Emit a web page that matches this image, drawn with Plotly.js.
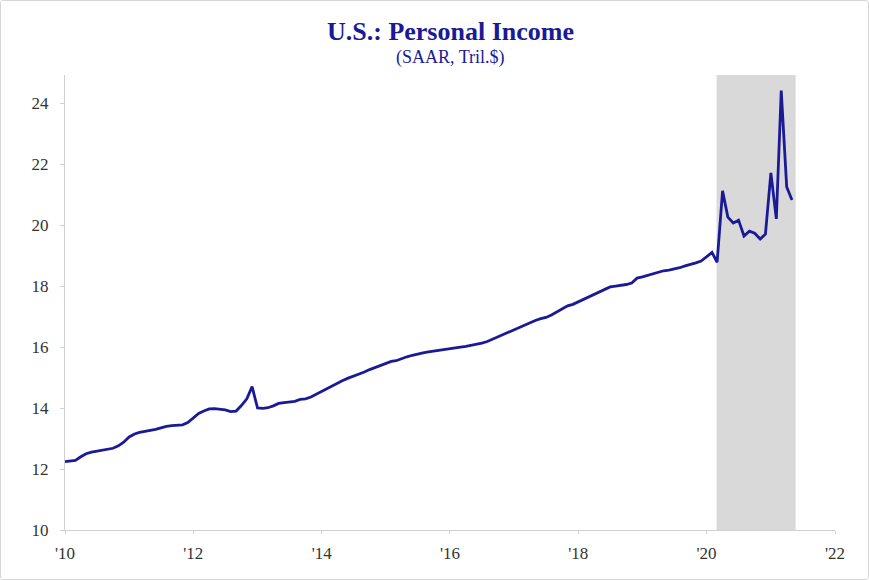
<!DOCTYPE html>
<html>
<head>
<meta charset="utf-8">
<script src="https://cdn.plot.ly/plotly-3.0.1.min.js"></script>
<style>
  html, body { margin: 0; padding: 0; background: #ffffff; }
  #frame { width: 869px; height: 580px; box-sizing: border-box; border: 1px solid #d6d6d6; border-radius: 3px; overflow: hidden; }
  #chart { width: 867px; height: 578px; }
</style>
</head>
<body>
<div id="frame"><div id="chart"></div></div>
<script>
// Monthly series start (first observation) and values, SAAR, trillions of $
const startYear = 2010;
const personalIncome = [
  // 2010
  12.24, 12.25, 12.28, 12.40, 12.50, 12.55, 12.58, 12.62, 12.65, 12.68, 12.76, 12.88,
  // 2011
  13.05, 13.15, 13.20, 13.23, 13.27, 13.30, 13.35, 13.40, 13.42, 13.43, 13.45, 13.52,
  // 2012
  13.68, 13.82, 13.90, 13.97, 13.98, 13.96, 13.94, 13.88, 13.90, 14.08, 14.30, 14.70,
  // 2013
  14.00, 13.99, 14.01, 14.07, 14.15, 14.18, 14.19, 14.22, 14.28, 14.30, 14.36, 14.45,
  // 2014
  14.55, 14.65, 14.74, 14.82, 14.90, 14.98, 15.04, 15.12, 15.18, 15.26, 15.33, 15.40,
  // 2015
  15.46, 15.53, 15.55, 15.62, 15.68, 15.73, 15.78, 15.81, 15.84, 15.87, 15.90, 15.91,
  // 2016
  15.95, 15.97, 16.00, 16.02, 16.05, 16.09, 16.13, 16.18, 16.26, 16.32, 16.40, 16.48,
  // 2017
  16.57, 16.65, 16.72, 16.80, 16.87, 16.93, 16.97, 17.05, 17.15, 17.27, 17.35, 17.40,
  // 2018
  17.48, 17.56, 17.64, 17.72, 17.80, 17.88, 17.97, 18.00, 18.02, 18.05, 18.10, 18.26,
  // 2019
  18.30, 18.35, 18.42, 18.46, 18.50, 18.52, 18.55, 18.60, 18.66, 18.70, 18.76, 18.82,
  // 2020
  18.95, 19.10, 18.78, 21.12, 20.26, 20.07, 20.16, 19.64, 19.80, 19.73, 19.54, 19.70,
  // 2021
  21.71, 20.20, 24.41, 21.25, 20.82
];

// Shaded recession period
const recessionStart = '2020-02-27';
const recessionEnd = '2021-05-22';

// Axis ticks
const xTickVals = ['2010-01-01', '2012-01-01', '2014-01-01', '2016-01-01', '2018-01-01', '2020-01-01', '2022-01-01'];
const xTickText = ["'10", "'12", "'14", "'16", "'18", "'20", "'22"];
const yTickVals = [10, 12, 14, 16, 18, 20, 22, 24];

const titleText = 'U.S.: Personal Income';
const subtitleText = '(SAAR, Tril.$)';

// Build month dates for the observations
const months = personalIncome.map((_, i) => {
  const y = startYear + Math.floor(i / 12);
  const m = (i % 12) + 1;
  return y + '-' + String(m).padStart(2, '0') + '-01';
});

const navy = '#1a1a96';
const serif = '"Liberation Serif", "DejaVu Serif", serif';

const trace = {
  x: months,
  y: personalIncome,
  type: 'scatter',
  mode: 'lines',
  line: { color: navy, width: 2.8 },
  hoverinfo: 'x+y'
};

const layout = {
  width: 867,
  height: 578,
  margin: { l: 64, r: 33, t: 74, b: 49 },
  paper_bgcolor: '#ffffff',
  plot_bgcolor: '#ffffff',
  showlegend: false,
  font: { family: serif, color: '#333333' },
  xaxis: {
    type: 'date',
    range: ['2010-01-01', '2022-01-01'],
    tickvals: xTickVals,
    ticktext: xTickText,
    showgrid: false,
    zeroline: false,
    showline: true,
    linecolor: '#d0d0d0',
    linewidth: 1,
    ticks: 'outside',
    ticklen: 3,
    tickcolor: '#d0d0d0',
    ticklabelstandoff: 5,
    tickfont: { family: serif, size: 17, color: '#333333' }
  },
  yaxis: {
    range: [10, 24.92],
    tickvals: yTickVals,
    showgrid: false,
    zeroline: false,
    showline: true,
    linecolor: '#d0d0d0',
    linewidth: 1,
    ticks: 'outside',
    ticklen: 4,
    tickcolor: '#d0d0d0',
    ticklabelstandoff: 8,
    tickfont: { family: serif, size: 17, color: '#333333' }
  },
  shapes: [{
    type: 'rect',
    xref: 'x',
    yref: 'paper',
    x0: recessionStart,
    x1: recessionEnd,
    y0: 0,
    y1: 1,
    fillcolor: '#d9d9d9',
    line: { width: 0 },
    layer: 'below'
  }],
  annotations: [
    {
      text: '<b>' + titleText + '</b>',
      xref: 'paper', yref: 'paper',
      x: 0.5, y: 1,
      xanchor: 'center', yanchor: 'bottom',
      yshift: 27,
      showarrow: false,
      font: { family: serif, size: 26, color: navy }
    },
    {
      text: subtitleText,
      xref: 'paper', yref: 'paper',
      x: 0.5, y: 1,
      xanchor: 'center', yanchor: 'bottom',
      yshift: 5,
      showarrow: false,
      font: { family: serif, size: 18, color: navy }
    }
  ]
};

Plotly.newPlot('chart', [trace], layout, { displayModeBar: false, staticPlot: true });
</script>
</body>
</html>
